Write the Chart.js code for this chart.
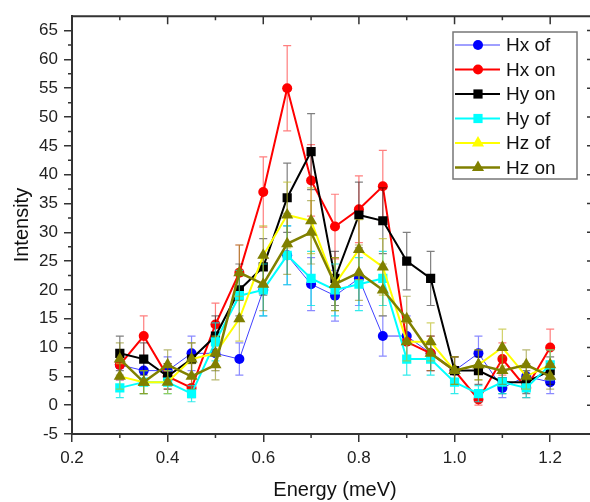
<!DOCTYPE html>
<html>
<head>
<meta charset="utf-8">
<script src="https://cdn.jsdelivr.net/npm/chart.js@4.4.1/dist/chart.umd.min.js"></script>
<style>
    html, body { margin: 0; padding: 0; background: #fff; overflow: hidden; }
    #wrap { width: 590px; height: 502px; overflow: hidden; }
</style>
</head>
<body>
<div id="wrap"><canvas id="myChart" width="620" height="502"></canvas></div>
<script>
const energy = [0.3, 0.35, 0.4, 0.45, 0.5, 0.55, 0.6, 0.65, 0.7, 0.75, 0.8, 0.85, 0.9, 0.95, 1.0, 1.05, 1.1, 1.15, 1.2];

const hxOf = [7, 6, 6, 9, 9, 8, 20, 26, 21, 19, 22, 12, 12, 9, 6, 9, 3, 5, 4];
const hxOn = [7, 12, 5, 3, 14, 23, 37, 55, 39, 31, 34, 38, 11, 9, 6, 1, 8, 3, 10];
const hyOn = [9, 8, 5, 8, 12, 20, 24, 36, 44, 22, 33, 32, 25, 22, 6, 6, 4, 4, 6];
const hyOf = [3, 4, 4, 2, 11, 19, 20, 26, 22, 20, 21, 22, 8, 8, 4, 2, 4, 3, 7];
const hzOf = [5, 4, 4, 8, 9, 15, 26, 33, 32, 21, 27, 24, 11, 11, 6, 7, 10, 5, 7];
const hzOn = [8, 4, 7, 5, 7, 23, 21, 28, 30, 21, 23, 20, 15, 9, 6, 7, 6, 7, 5];

// error bar half heights
const hxOfErr = [2.6, 2.4, 2.4, 3, 3, 2.8, 4.5, 5.1, 4.6, 4.4, 4.7, 3.5, 3.5, 3, 2.4, 3, 1.7, 2.2, 2];
const hxOnErr = [2.6, 3.5, 2.2, 1.7, 3.7, 4.8, 6.1, 7.4, 6.2, 5.6, 5.8, 6.2, 3.3, 3, 2.4, 1, 2.8, 1.7, 3.2];
const hyOnErr = [3, 2.8, 2.2, 2.8, 3.5, 4.5, 4.9, 6, 6.6, 4.7, 5.7, 5.7, 5, 4.7, 2.4, 2.4, 2, 2, 2.4];
const hyOfErr = [1.7, 2, 2, 1.4, 3.3, 4.4, 4.5, 5.1, 4.7, 4.5, 4.6, 4.7, 2.8, 2.8, 2, 1.4, 2, 1.7, 2.6];
const hzOfErr = [2.2, 2, 2, 2.8, 3, 3.9, 5.1, 5.7, 5.7, 4.6, 5.2, 4.9, 3.3, 3.3, 2.4, 2.6, 3.2, 2.2, 2.6];
const hzOnErr = [2.8, 2, 2.6, 2.2, 2.6, 4.8, 4.6, 5.3, 5.5, 4.6, 4.8, 4.5, 3.9, 3, 2.4, 2.6, 2.4, 2.6, 2.2];

const xTicks = [0.2, 0.4, 0.6, 0.8, 1.0, 1.2];

const FONT = "'Liberation Sans', Arial, sans-serif";

const points = (vals) => energy.map((e, i) => ({ x: e, y: vals[i] }));

// error bars drawn just under each dataset
const errorBars = {
    id: "errorBars",
    beforeDatasetDraw(chart, args) {
        const ds = chart.data.datasets[args.index];
        const { ctx, scales: { x, y } } = chart;
        ctx.save();
        ctx.strokeStyle = ds.errorColor;
        ctx.lineWidth = 1.2;
        ctx.beginPath();
        ds.data.forEach((p, i) => {
            const px = x.getPixelForValue(p.x);
            const top = y.getPixelForValue(p.y + ds.errors[i]);
            const bot = y.getPixelForValue(p.y - ds.errors[i]);
            ctx.moveTo(px, top); ctx.lineTo(px, bot);
            ctx.moveTo(px - 4, top); ctx.lineTo(px + 4, top);
            ctx.moveTo(px - 4, bot); ctx.lineTo(px + 4, bot);
        });
        ctx.stroke();
        ctx.restore();
    },
};

// top/right frame, inward ticks, minor ticks
const frame = {
    id: "frame",
    afterDraw(chart) {
        const { ctx, chartArea: a, scales: { x, y } } = chart;
        ctx.save();
        ctx.strokeStyle = "#333";
        ctx.lineWidth = 2;
        ctx.beginPath();
        ctx.moveTo(a.left, a.top);
        ctx.lineTo(a.right, a.top);
        ctx.lineTo(a.right, a.bottom);
        ctx.stroke();
        ctx.lineWidth = 1.5;
        ctx.beginPath();
        for (let k = 2; k <= 13; k++) {
            const px = x.getPixelForValue(k / 10);
            const major = k % 2 === 0;
            ctx.moveTo(px, a.top);
            ctx.lineTo(px, a.top + (major ? 8 : 4));
            if (!major) {
                ctx.moveTo(px, a.bottom);
                ctx.lineTo(px, a.bottom + 4);
            }
        }
        for (let k = -2; k < 27; k++) {
            const py = y.getPixelForValue(k * 2.5);
            const major = k % 2 === 0;
            ctx.moveTo(a.right, py);
            ctx.lineTo(a.right - (major ? 11 : 4), py);
            if (!major) {
                ctx.moveTo(a.left, py);
                ctx.lineTo(a.left - 4, py);
            }
        }
        ctx.stroke();
        ctx.restore();
    },
};

const legendBox = {
    id: "legendBox",
    afterDraw(chart) {
        const { ctx } = chart;
        const x0 = 453, y0 = 32, w = 124, h = 147, rowH = 24.5;
        ctx.save();
        ctx.fillStyle = "#fff";
        ctx.fillRect(x0, y0, w, h);
        ctx.strokeStyle = "#777";
        ctx.lineWidth = 1.5;
        ctx.strokeRect(x0, y0, w, h);
        ctx.font = "19px " + FONT;
        ctx.textBaseline = "middle";
        chart.data.datasets.forEach((ds, i) => {
            const cy = y0 + 13 + i * rowH;
            ctx.strokeStyle = ds.borderColor;
            ctx.lineWidth = ds.borderWidth;
            ctx.beginPath();
            ctx.moveTo(x0 + 2, cy);
            ctx.lineTo(x0 + 47, cy);
            ctx.stroke();
            ctx.fillStyle = ds.legendMarker || ds.pointBackgroundColor;
            Chart.helpers.drawPoint(ctx, { pointStyle: ds.pointStyle, radius: ds.pointRadius, borderWidth: 0 }, x0 + 25, cy);
            ctx.fillStyle = "#111";
            ctx.fillText(ds.label, x0 + 53, cy + 1);
        });
        ctx.restore();
    },
};

new Chart(document.getElementById("myChart"), {
    type: "line",
    data: {
        datasets: [
            {
                label: "Hx of", data: points(hxOf), errors: hxOfErr,
                borderColor: "#4040ff", borderWidth: 1,
                pointStyle: "circle", pointRadius: 5,
                pointBackgroundColor: "#0000ff", pointBorderColor: "#0000ff", pointBorderWidth: 0,
                errorColor: "rgba(60,60,255,0.6)", order: 5,
            },
            {
                label: "Hx on", data: points(hxOn), errors: hxOnErr,
                borderColor: "#ff0000", borderWidth: 2,
                pointStyle: "circle", pointRadius: 5,
                pointBackgroundColor: "#ff0000", pointBorderColor: "#ff0000", pointBorderWidth: 0,
                errorColor: "rgba(255,40,40,0.6)", order: 4,
            },
            {
                label: "Hy on", data: points(hyOn), errors: hyOnErr,
                borderColor: "#000000", borderWidth: 2,
                pointStyle: "rect", pointRadius: 6.5,
                pointBackgroundColor: "#000000", pointBorderColor: "#000000", pointBorderWidth: 0,
                errorColor: "rgba(0,0,0,0.5)", order: 3,
            },
            {
                label: "Hy of", data: points(hyOf), errors: hyOfErr,
                borderColor: "#00ffff", borderWidth: 2,
                pointStyle: "rect", pointRadius: 6.5,
                pointBackgroundColor: "#00ffff", pointBorderColor: "#00ffff", pointBorderWidth: 0,
                errorColor: "rgba(0,230,230,0.8)", order: 2,
            },
            {
                label: "Hz of", data: points(hzOf), errors: hzOfErr,
                borderColor: "#ffff00", borderWidth: 2,
                pointStyle: "triangle", pointRadius: 7,
                pointBackgroundColor: "#808000", pointBorderColor: "#808000", pointBorderWidth: 0,
                legendMarker: "#ffff00",
                errorColor: "rgba(190,190,40,0.7)", order: 1,
            },
            {
                label: "Hz on", data: points(hzOn), errors: hzOnErr,
                borderColor: "#808000", borderWidth: 2.5,
                pointStyle: "triangle", pointRadius: 7,
                pointBackgroundColor: "#808000", pointBorderColor: "#808000", pointBorderWidth: 0,
                errorColor: "rgba(128,128,0,0.55)", order: 0,
            },
        ],
    },
    options: {
        responsive: false,
        animation: false,
        layout: { padding: { top: 12, right: 22, left: 0, bottom: 0 } },
        plugins: {
            legend: { display: false },
            tooltip: { enabled: false },
        },
        scales: {
            x: {
                type: "linear",
                min: 0.2,
                max: 1.3,
                afterFit: (s) => { s.height = 68; },
                afterBuildTicks: (s) => { s.ticks = xTicks.map((v) => ({ value: v })); },
                ticks: {
                    color: "#222",
                    padding: 6,
                    font: { family: FONT, size: 17 },
                    callback: (v) => v.toFixed(1),
                },
                grid: { drawOnChartArea: false, drawTicks: true, tickLength: 8, color: "#333", lineWidth: 1.5 },
                border: { display: true, color: "#333", width: 2 },
                title: {
                    display: true, text: "Energy (meV)", color: "#111",
                    font: { family: FONT, size: 20 }, padding: { top: 0, bottom: 0 },
                },
            },
            y: {
                min: -5,
                max: 67.5,
                afterFit: (s) => { s.width = 72; },
                ticks: {
                    stepSize: 5,
                    includeBounds: false,
                    color: "#222",
                    padding: 6,
                    font: { family: FONT, size: 17 },
                },
                grid: { drawOnChartArea: false, drawTicks: true, tickLength: 8, color: "#333", lineWidth: 1.5 },
                border: { display: true, color: "#333", width: 2 },
                title: {
                    display: true, text: "Intensity", color: "#111",
                    font: { family: FONT, size: 20 }, padding: { top: 10, bottom: 0 },
                },
            },
        },
    },
    plugins: [errorBars, frame, legendBox],
});
</script>
</body>
</html>
